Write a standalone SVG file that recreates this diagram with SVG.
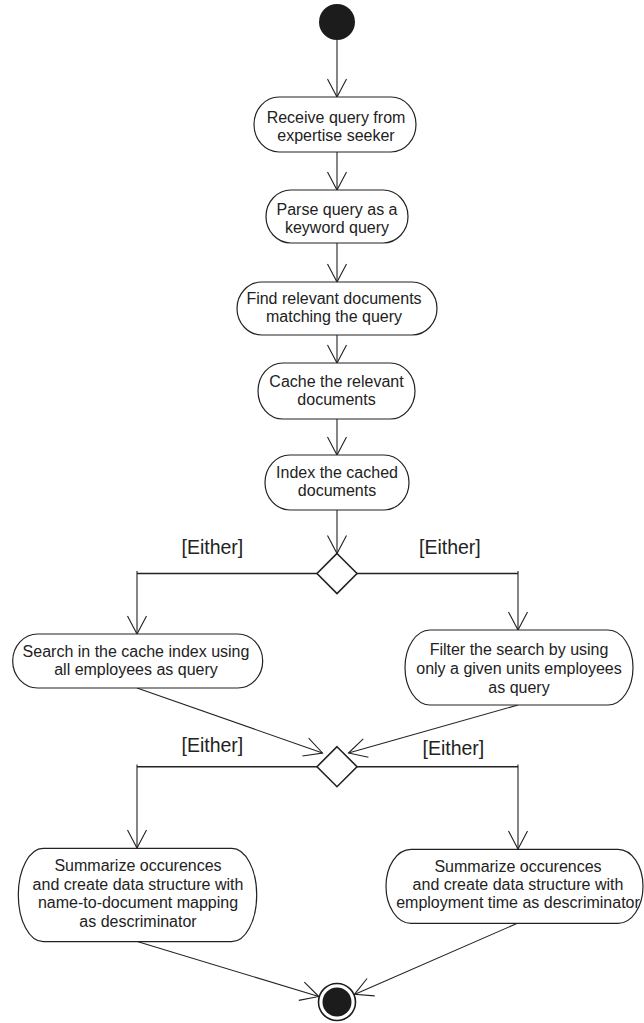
<svg xmlns="http://www.w3.org/2000/svg" width="644" height="1023" viewBox="0 0 644 1023">
  <style>
    .act { fill: #ffffff; stroke: #222222; stroke-width: 1.2; }
    .lbl { font-family: "Liberation Sans", Arial, sans-serif; font-size: 16px; fill: #222222; text-anchor: middle; }
    .guard { font-family: "Liberation Sans", Arial, sans-serif; font-size: 19.5px; fill: #222222; }
    .flow { fill: none; stroke: #222222; stroke-width: 1.1; }
    .branch { fill: none; stroke: #222222; stroke-width: 1.6; }
    .dec { fill: #ffffff; stroke: #222222; stroke-width: 1.6; }
  </style>
  <defs>
    <marker id="open" markerUnits="userSpaceOnUse" orient="auto" refX="0" refY="0" markerWidth="20" markerHeight="20" overflow="visible">
      <path d="M-18,-9.5 L0,0 L-18,9.5" fill="none" stroke="#222222" stroke-width="1.1"/>
    </marker>
  </defs>
  <rect width="644" height="1023" fill="#ffffff"/>

  <!-- connectors -->
  <g id="connectors">
    <line class="flow" x1="337" y1="40" x2="337" y2="97" marker-end="url(#open)"/>
    <line class="flow" x1="337" y1="152" x2="337" y2="190" marker-end="url(#open)"/>
    <line class="flow" x1="337" y1="243" x2="337" y2="282" marker-end="url(#open)"/>
    <line class="flow" x1="337" y1="335" x2="337" y2="363" marker-end="url(#open)"/>
    <line class="flow" x1="337" y1="419" x2="337" y2="455" marker-end="url(#open)"/>
    <line class="flow" x1="337" y1="510" x2="337" y2="553.5" marker-end="url(#open)"/>
    <!-- first fork -->
    <polyline class="branch" points="317,573.5 137,573.5"/>
    <polyline class="branch" points="357,573.5 518,573.5"/>
    <line class="flow" x1="137" y1="571" x2="137" y2="634" marker-end="url(#open)"/>
    <line class="flow" x1="518" y1="571" x2="518" y2="630" marker-end="url(#open)"/>
    <!-- merge into second decision -->
    <line class="flow" x1="137" y1="688" x2="322.5" y2="753" marker-end="url(#open)"/>
    <line class="flow" x1="518" y1="705" x2="348.5" y2="753" marker-end="url(#open)"/>
    <!-- second fork -->
    <polyline class="branch" points="317,766.7 137,766.7"/>
    <polyline class="branch" points="357,766.7 518,766.7"/>
    <line class="flow" x1="137" y1="764.5" x2="137" y2="848" marker-end="url(#open)"/>
    <line class="flow" x1="518" y1="764.5" x2="518" y2="849" marker-end="url(#open)"/>
    <!-- into final node -->
    <line class="flow" x1="138" y1="941.7" x2="318.8" y2="996.5" marker-end="url(#open)"/>
    <line class="flow" x1="518" y1="923" x2="354.4" y2="994.4" marker-end="url(#open)"/>
  </g>

  <g id="start">
    <circle cx="337" cy="22" r="18" fill="#1c1c1c"/>
  </g>

  <g id="receive">
    <rect class="act" x="254" y="97" width="162" height="55" rx="25" ry="27.5"/>
    <text class="lbl" x="336" y="122.5">Receive query from</text>
    <text class="lbl" x="336" y="140.5">expertise seeker</text>
  </g>

  <g id="parse">
    <rect class="act" x="266" y="190" width="142" height="53" rx="25" ry="26.5"/>
    <text class="lbl" x="337" y="215">Parse query as a</text>
    <text class="lbl" x="337" y="233">keyword query</text>
  </g>

  <g id="find">
    <rect class="act" x="237" y="282" width="200" height="53" rx="25" ry="26.5"/>
    <text class="lbl" x="334" y="304">Find relevant documents</text>
    <text class="lbl" x="334" y="322">matching the query</text>
  </g>

  <g id="cache">
    <rect class="act" x="258" y="363" width="157" height="56" rx="25" ry="28"/>
    <text class="lbl" x="336.5" y="387">Cache the relevant</text>
    <text class="lbl" x="336.5" y="405">documents</text>
  </g>

  <g id="index">
    <rect class="act" x="265" y="455" width="144" height="55" rx="25" ry="27.5"/>
    <text class="lbl" x="337" y="478">Index the cached</text>
    <text class="lbl" x="337" y="496">documents</text>
  </g>

  <g id="decision-1">
    <polygon class="dec" points="337,553.5 357,573.5 337,593.5 317,573.5"/>
    <text class="guard" x="181.5" y="554">[Either]</text>
    <text class="guard" x="419" y="554">[Either]</text>
  </g>

  <g id="search-all">
    <rect class="act" x="12.7" y="634" width="250" height="54" rx="25" ry="27"/>
    <text class="lbl" x="136" y="656.7">Search in the cache index using</text>
    <text class="lbl" x="136" y="675">all employees as query</text>
  </g>

  <g id="filter-unit">
    <rect class="act" x="405" y="630" width="228" height="75" rx="25" ry="37.5"/>
    <text class="lbl" x="519" y="655">Filter the search by using</text>
    <text class="lbl" x="519" y="674">only a given units employees</text>
    <text class="lbl" x="519" y="693">as query</text>
  </g>

  <g id="decision-2">
    <polygon class="dec" points="337,746.7 357,766.7 337,786.7 317,766.7"/>
    <text class="guard" x="181.5" y="752">[Either]</text>
    <text class="guard" x="422.5" y="755">[Either]</text>
  </g>

  <g id="summarize-name">
    <rect class="act" x="18.3" y="848.3" width="238.4" height="93.4" rx="25" ry="46.7"/>
    <text class="lbl" x="138" y="870.7">Summarize occurences</text>
    <text class="lbl" x="138" y="889.5">and create data structure with</text>
    <text class="lbl" x="138" y="908.3">name-to-document mapping</text>
    <text class="lbl" x="138" y="927.3">as descriminator</text>
  </g>

  <g id="summarize-time">
    <rect class="act" x="386" y="849.3" width="257" height="74" rx="25" ry="37"/>
    <text class="lbl" x="518" y="871.7">Summarize occurences</text>
    <text class="lbl" x="518" y="890">and create data structure with</text>
    <text class="lbl" x="518" y="908.3">employment time as descriminator</text>
  </g>

  <g id="end">
    <circle cx="337" cy="1002" r="18.5" fill="#ffffff" stroke="#1c1c1c" stroke-width="1.6"/>
    <circle cx="337" cy="1002" r="14.5" fill="#1c1c1c"/>
  </g>
</svg>
